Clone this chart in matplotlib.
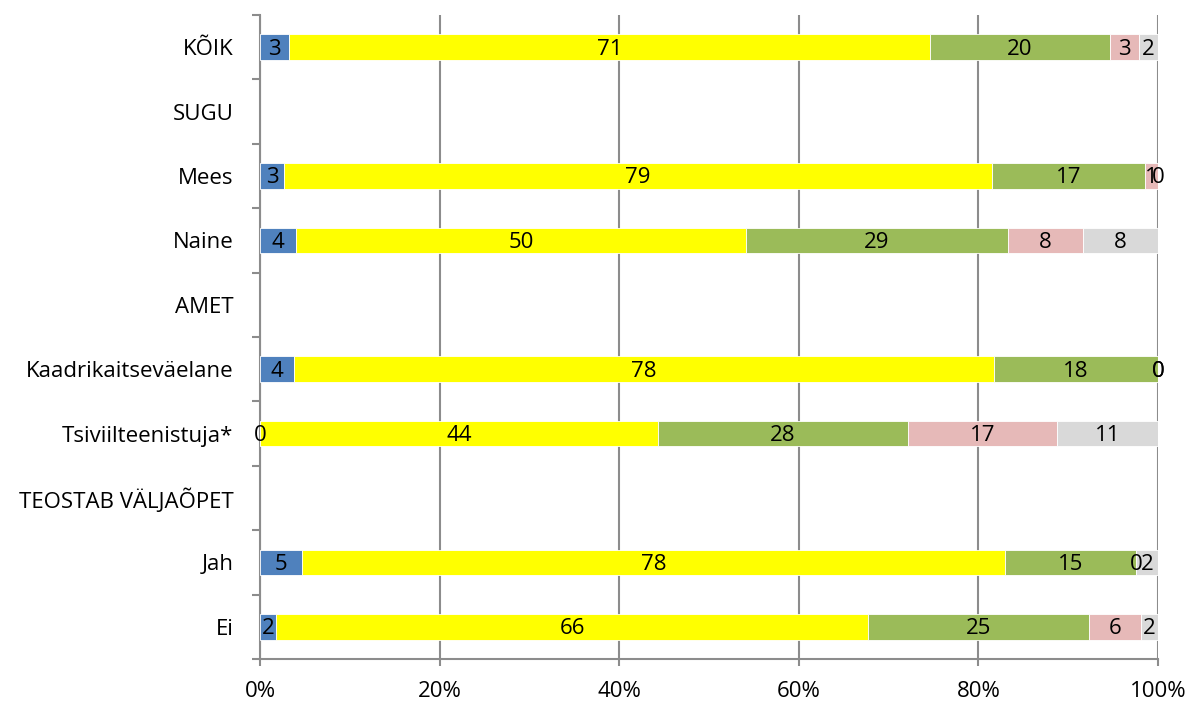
import numpy as np
import matplotlib.pyplot as plt
from matplotlib.ticker import PercentFormatter

plt.rcParams['font.family'] = ['Open Sans', 'DejaVu Sans']

categories = ['KÕIK', 'SUGU', 'Mees', 'Naine', 'AMET', 'Kaadrikaitseväelane',
              'Tsiviilteenistuja*', 'TEOSTAB VÄLJAÕPET', 'Jah', 'Ei']
nan = np.nan
# five answer groups, shares in % (headline rows have no bars)
s1 = [3.2, nan, 2.7, 4.0, nan, 3.8, 0.0, nan, 4.7, 1.8]
s2 = [71.4, nan, 78.8, 50.1, nan, 77.9, 44.3, nan, 78.3, 65.9]
s3 = [20.0, nan, 17.1, 29.2, nan, 18.3, 27.9, nan, 14.6, 24.6]
s4 = [3.3, nan, 1.4, 8.4, nan, 0.0, 16.6, nan, 0.0, 5.8]
s5 = [2.1, nan, 0.0, 8.3, nan, 0.0, 11.2, nan, 2.4, 1.9]
series = [s1, s2, s3, s4, s5]
colors = ['#4F81BD', '#FFFF00', '#9BBB59', '#E6B9B8', '#D9D9D9']
xticks = [0, 20, 40, 60, 80, 100]

fig = plt.figure(figsize=(11.96, 7.06), dpi=100)
ax = fig.add_axes([260 / 1196, 47 / 706, 898 / 1196, 644 / 706])

y = np.arange(len(categories))
left = np.zeros(len(categories))
for vals, col in zip(series, colors):
    v = np.array(vals, dtype=float)
    ax.barh(y, v, left=left, height=0.4, color=col, edgecolor='white',
            linewidth=0.6, zorder=3)
    for i in range(len(v)):
        if np.isnan(v[i]):
            continue
        ax.text(left[i] + v[i] / 2, y[i] + 0.03, '%d' % round(v[i]),
                ha='center', va='center', fontsize=16, color='black', zorder=4)
    left = np.where(np.isnan(v), left, left + v)

ax.set_xlim(0, 100)
ax.set_ylim(len(categories) - 0.5, -0.5)
ax.set_xticks(xticks)
ax.xaxis.set_major_formatter(PercentFormatter(decimals=0))
ax.set_yticks(y)
ax.set_yticklabels(categories)
ax.set_yticks(np.arange(-0.5, len(categories)), minor=True)
ax.tick_params(axis='y', which='major', length=0, pad=19, labelsize=16)
ax.tick_params(axis='y', which='minor', length=6, width=1.5, color='#8C8C8C')
ax.tick_params(axis='x', length=5, width=1.5, color='#8C8C8C', pad=11,
               labelsize=16)

ax.grid(axis='x', color='#8C8C8C', linewidth=1.5, zorder=0)
for sp in ['top', 'right']:
    ax.spines[sp].set_visible(False)
for sp in ['left', 'bottom']:
    ax.spines[sp].set_color('#8C8C8C')
    ax.spines[sp].set_linewidth(1.5)

fig.savefig('out.png', dpi=100)
